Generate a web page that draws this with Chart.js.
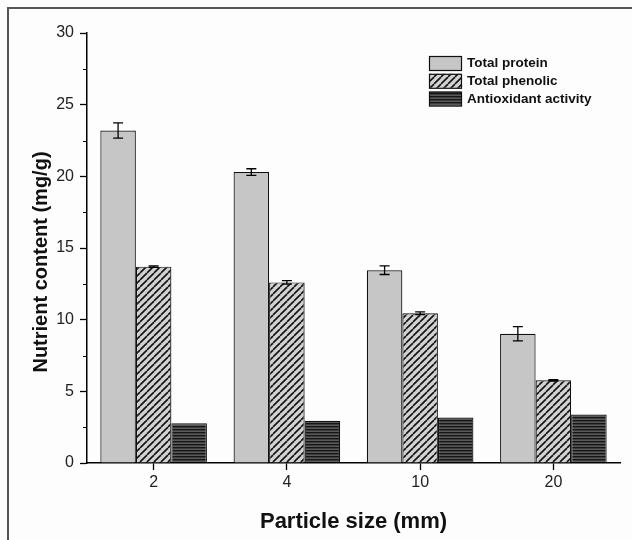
<!DOCTYPE html>
<html>
<head>
<meta charset="utf-8">
<script src="https://cdn.jsdelivr.net/npm/chart.js@4.4.1/dist/chart.umd.min.js"></script>
<style>
  html, body { margin: 0; padding: 0; background: #fdfdfd; }
  #wrap { position: relative; width: 632px; height: 540px; }
  #frame { position: absolute; left: 7px; top: 7px; right: 0; bottom: 0;
           border-left: 2px solid #555; border-top: 2px solid #555; pointer-events: none; }
</style>
</head>
<body>
<div id="wrap">
  <canvas id="chart" width="632" height="540"></canvas>
  <div id="frame"></div>
</div>
<script>
// particle sizes (mm)
const categories = ['2', '4', '10', '20'];

// nutrient content (mg/g)
const protein = [23.2, 20.3, 13.45, 9.02];
const proteinErr = [0.53, 0.23, 0.3, 0.5];
const phenolic = [13.7, 12.6, 10.45, 5.77];
const phenolicErr = [0.05, 0.12, 0.1, 0.05];
const antioxidant = [2.78, 2.95, 3.17, 3.38];
const antioxidantErr = [0, 0, 0, 0];

const yMin = 0, yMax = 30, yStep = 5;
const yTitle = 'Nutrient content (mg/g)';
const FONT = '"Liberation Sans", Arial, sans-serif';

// fill patterns
function makePattern(size, bg, draw) {
    const c = document.createElement('canvas');
    c.width = size; c.height = size;
    const g = c.getContext('2d');
    g.fillStyle = bg;
    g.fillRect(0, 0, size, size);
    draw(g, size);
    return g.createPattern(c, 'repeat');
}

const diagonal = makePattern(7, '#d2d2d2', function (g, s) {
    g.strokeStyle = '#111';
    g.lineWidth = 1.6;
    for (let k = -1; k <= 1; k++) {
        g.beginPath();
        g.moveTo(k * s, s);
        g.lineTo(k * s + s, 0);
        g.stroke();
    }
});

const horizontal = makePattern(3, '#5a5a5a', function (g, s) {
    g.fillStyle = '#161616';
    g.fillRect(0, 0, s, 1.4);
});

// error bars, minor ticks, y title and the legend box
const extras = {
    id: 'extras',
    afterDatasetsDraw(chart) {
        const ctx = chart.ctx;
        const y = chart.scales.y;
        ctx.save();
        ctx.strokeStyle = '#000';
        ctx.lineWidth = 1.3;
        chart.data.datasets.forEach(function (ds, i) {
            const meta = chart.getDatasetMeta(i);
            meta.data.forEach(function (bar, j) {
                const e = ds.errors[j];
                if (!e) return;
                const v = ds.data[j];
                const top = y.getPixelForValue(v + e);
                const bot = y.getPixelForValue(v - e);
                ctx.beginPath();
                ctx.moveTo(bar.x, top); ctx.lineTo(bar.x, bot);
                ctx.moveTo(bar.x - 5, top); ctx.lineTo(bar.x + 5, top);
                ctx.moveTo(bar.x - 5, bot); ctx.lineTo(bar.x + 5, bot);
                ctx.stroke();
            });
        });
        ctx.restore();
    },
    afterDraw(chart) {
        const ctx = chart.ctx;
        const y = chart.scales.y;
        const area = chart.chartArea;
        ctx.save();
        // minor ticks
        ctx.strokeStyle = '#000';
        ctx.lineWidth = 1;
        for (let v = yMin + yStep / 2; v < yMax; v += yStep) {
            const py = Math.round(y.getPixelForValue(v)) + 0.5;
            ctx.beginPath();
            ctx.moveTo(area.left - 4, py);
            ctx.lineTo(area.left, py);
            ctx.stroke();
        }
        // y axis title (sits a little below the axis middle in the original)
        ctx.save();
        ctx.translate(41, 262);
        ctx.rotate(-Math.PI / 2);
        ctx.font = 'bold 20px ' + FONT;
        ctx.fillStyle = '#111';
        ctx.textAlign = 'center';
        ctx.textBaseline = 'middle';
        ctx.fillText(yTitle, 0, 0);
        ctx.restore();
        // legend
        const bx = 429, by = 56, bw = 32, bh = 14, gap = 17.8;
        ctx.font = 'bold 13.5px ' + FONT;
        ctx.textBaseline = 'middle';
        ctx.textAlign = 'left';
        chart.data.datasets.forEach(function (ds, i) {
            const top = by + i * gap;
            ctx.fillStyle = ds.backgroundColor;
            ctx.fillRect(bx, top, bw, bh);
            ctx.lineWidth = 1.2;
            ctx.strokeStyle = '#111';
            ctx.strokeRect(bx + 0.5, top + 0.5, bw, bh);
            ctx.fillStyle = '#111';
            ctx.fillText(ds.label, bx + bw + 6, top + bh / 2 + 0.5);
        });
        ctx.restore();
    }
};

new Chart(document.getElementById('chart'), {
    type: 'bar',
    data: {
        labels: categories,
        datasets: [
            { label: 'Total protein', data: protein, errors: proteinErr,
              backgroundColor: '#c6c6c6', borderColor: '#111', borderWidth: 1.2 },
            { label: 'Total phenolic', data: phenolic, errors: phenolicErr,
              backgroundColor: diagonal, borderColor: '#111', borderWidth: 1.2 },
            { label: 'Antioxidant activity', data: antioxidant, errors: antioxidantErr,
              backgroundColor: horizontal, borderColor: '#111', borderWidth: 1.2 }
        ]
    },
    options: {
        responsive: false,
        animation: false,
        devicePixelRatio: 1,
        layout: { padding: { top: 33, right: 12, left: 0, bottom: 0 } },
        datasets: { bar: { categoryPercentage: 0.8, barPercentage: 1.0 } },
        plugins: {
            legend: { display: false },
            tooltip: { enabled: false }
        },
        scales: {
            x: {
                afterFit(scale) { scale.height = 77; },
                grid: { display: true, drawOnChartArea: false, offset: false,
                        tickLength: 7, color: '#000', tickWidth: 1.3 },
                border: { display: true, color: '#000', width: 1.5 },
                ticks: { color: '#222', padding: 3, font: { family: FONT, size: 16 } },
                title: { display: true, text: 'Particle size (mm)', color: '#111',
                         padding: { top: 0, bottom: 5 },
                         font: { family: FONT, size: 22, weight: 'bold' } }
            },
            y: {
                min: yMin, max: yMax,
                afterFit(scale) { scale.width = 87; },
                grid: { display: true, drawOnChartArea: false,
                        tickLength: 7, color: '#000', tickWidth: 1.3 },
                border: { display: true, color: '#000', width: 1.5 },
                ticks: { stepSize: yStep, color: '#222', padding: 6, font: { family: FONT, size: 16 } },
                title: { display: false, text: yTitle }
            }
        }
    },
    plugins: [extras]
});
</script>
</body>
</html>
